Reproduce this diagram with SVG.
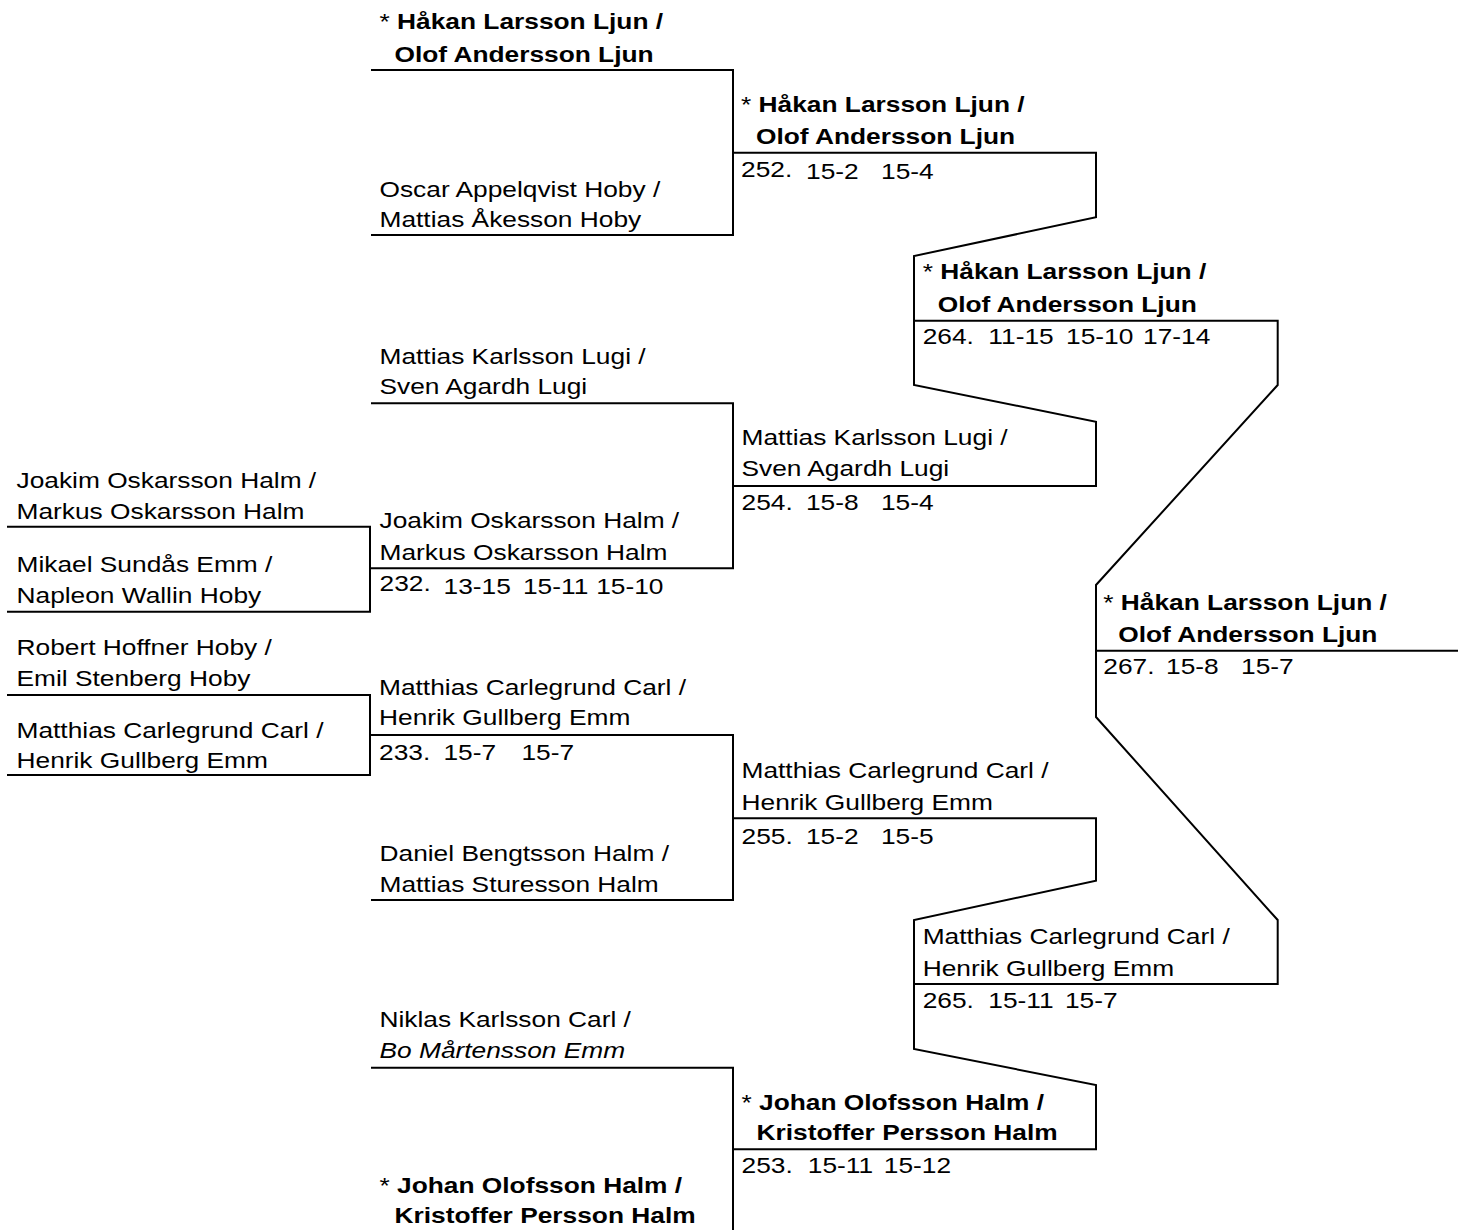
<svg xmlns="http://www.w3.org/2000/svg" width="1466" height="1230" viewBox="0 0 1466 1230">
<style>
text{font-family:"Liberation Sans",Arial,Helvetica,sans-serif;font-size:22.5px;fill:#000}
.b{font-weight:bold}
.r{font-weight:normal}
.i{font-style:italic}
.c path{fill:none;stroke:#000;stroke-width:2}
</style>
<rect width="1466" height="1230" fill="#fff"/>
<g class="c" id="connectors">
<path d="M7 526.7H370V611.7H7"/>
<path d="M7 695H370V775H7"/>
<path d="M371 70H733V235H371"/>
<path d="M371 403.3H733V568.3H371"/>
<path d="M371 735H733V900H371"/>
<path d="M371 1067.7H733V1231H371"/>
<path d="M733 152.7H1096V217.3L914 256V385L1096 421.7V486H733"/>
<path d="M733 818.3H1096V880.7L914 920V1049L1096 1085V1149.3H733"/>
<path d="M914 320.7H1277.7V385L1096 585V717L1277.7 920V984H914"/>
<path d="M1096 650.7H1458"/>
</g>
<g id="r1-joakim"><text transform="translate(16.5 0) scale(1.17 1)"><tspan x="0" y="488.5">Joakim Oskarsson Halm /</tspan><tspan x="0" y="519.5">Markus Oskarsson Halm</tspan></text></g>
<g id="r1-mikael"><text transform="translate(16.5 0) scale(1.17 1)"><tspan x="0" y="572">Mikael Sundås Emm /</tspan><tspan x="0" y="603.5">Napleon Wallin Hoby</tspan></text></g>
<g id="r1-robert"><text transform="translate(16.5 0) scale(1.17 1)"><tspan x="0" y="655">Robert Hoffner Hoby /</tspan><tspan x="0" y="686">Emil Stenberg Hoby</tspan></text></g>
<g id="r1-matthias"><text transform="translate(16.5 0) scale(1.17 1)"><tspan x="0" y="738">Matthias Carlegrund Carl /</tspan><tspan x="0" y="768.5">Henrik Gullberg Emm</tspan></text></g>
<g id="r2-hakan"><text transform="translate(379.5 0) scale(1.17 1)" class="b"><tspan x="0" y="29.3" class="r">*</tspan><tspan> Håkan Larsson Ljun /</tspan><tspan x="12.8" y="61.7">Olof Andersson Ljun</tspan></text></g>
<g id="r2-oscar"><text transform="translate(379.5 0) scale(1.17 1)"><tspan x="0" y="196.7">Oscar Appelqvist Hoby /</tspan><tspan x="0" y="226.7">Mattias Åkesson Hoby</tspan></text></g>
<g id="r2-mattias"><text transform="translate(379.5 0) scale(1.17 1)"><tspan x="0" y="364.3">Mattias Karlsson Lugi /</tspan><tspan x="0" y="394.5">Sven Agardh Lugi</tspan></text></g>
<g id="m232"><text transform="translate(379.5 0) scale(1.17 1)"><tspan x="0" y="528.5">Joakim Oskarsson Halm /</tspan><tspan x="0" y="560">Markus Oskarsson Halm</tspan><tspan x="0" y="591.5">232.</tspan><tspan x="54.7" y="594.5">13-15</tspan><tspan x="122.6" y="594.5">15-11</tspan><tspan x="185.2" y="594.5">15-10</tspan></text></g>
<g id="m233"><text transform="translate(379 0) scale(1.17 1)"><tspan x="0" y="695">Matthias Carlegrund Carl /</tspan><tspan x="0" y="725">Henrik Gullberg Emm</tspan><tspan x="0" y="760">233.</tspan><tspan x="55.1" y="760">15-7</tspan><tspan x="121.8" y="760">15-7</tspan></text></g>
<g id="r2-daniel"><text transform="translate(379.5 0) scale(1.17 1)"><tspan x="0" y="861.5">Daniel Bengtsson Halm /</tspan><tspan x="0" y="892.5">Mattias Sturesson Halm</tspan></text></g>
<g id="r2-niklas"><text transform="translate(379.5 0) scale(1.17 1)"><tspan x="0" y="1027">Niklas Karlsson Carl /</tspan><tspan x="0" y="1058.3" class="i">Bo Mårtensson Emm</tspan></text></g>
<g id="r2-johan"><text transform="translate(379.5 0) scale(1.17 1)" class="b"><tspan x="0" y="1193.3" class="r">*</tspan><tspan> Johan Olofsson Halm /</tspan><tspan x="12.8" y="1222.7">Kristoffer Persson Halm</tspan></text></g>
<g id="m252"><text transform="translate(741 0) scale(1.17 1)"><tspan x="0" y="112" class="r">*</tspan><tspan class="b"> Håkan Larsson Ljun /</tspan><tspan x="12.8" y="144.5" class="b">Olof Andersson Ljun</tspan><tspan x="0" y="176.7">252.</tspan><tspan x="55.6" y="179.2">15-2</tspan><tspan x="119.7" y="179.2">15-4</tspan></text></g>
<g id="m254"><text transform="translate(741.5 0) scale(1.17 1)"><tspan x="0" y="445">Mattias Karlsson Lugi /</tspan><tspan x="0" y="476">Sven Agardh Lugi</tspan><tspan x="0" y="510">254.</tspan><tspan x="55.1" y="510">15-8</tspan><tspan x="119.2" y="510">15-4</tspan></text></g>
<g id="m255"><text transform="translate(741.5 0) scale(1.17 1)"><tspan x="0" y="778.3">Matthias Carlegrund Carl /</tspan><tspan x="0" y="810.5">Henrik Gullberg Emm</tspan><tspan x="0" y="844">255.</tspan><tspan x="55.1" y="844">15-2</tspan><tspan x="119.2" y="844">15-5</tspan></text></g>
<g id="m253"><text transform="translate(741.5 0) scale(1.17 1)"><tspan x="0" y="1110" class="r">*</tspan><tspan class="b"> Johan Olofsson Halm /</tspan><tspan x="12.8" y="1140.5" class="b">Kristoffer Persson Halm</tspan><tspan x="0" y="1173.3">253.</tspan><tspan x="56.7" y="1173.3">15-11</tspan><tspan x="121.6" y="1173.3">15-12</tspan></text></g>
<g id="m264"><text transform="translate(922.7 0) scale(1.17 1)"><tspan x="0" y="279.3" class="r">*</tspan><tspan class="b"> Håkan Larsson Ljun /</tspan><tspan x="12.8" y="312.5" class="b">Olof Andersson Ljun</tspan><tspan x="0" y="344.3">264.</tspan><tspan x="56.1" y="344.3">11-15</tspan><tspan x="122.5" y="344.3">15-10</tspan><tspan x="188.3" y="344.3">17-14</tspan></text></g>
<g id="m265"><text transform="translate(922.7 0) scale(1.17 1)"><tspan x="0" y="944.3">Matthias Carlegrund Carl /</tspan><tspan x="0" y="976">Henrik Gullberg Emm</tspan><tspan x="0" y="1008.3">265.</tspan><tspan x="56.1" y="1008.3">15-11</tspan><tspan x="121.6" y="1008.3">15-7</tspan></text></g>
<g id="m267"><text transform="translate(1103.3 0) scale(1.17 1)"><tspan x="0" y="610.5" class="r">*</tspan><tspan class="b"> Håkan Larsson Ljun /</tspan><tspan x="12.8" y="642" class="b">Olof Andersson Ljun</tspan><tspan x="0" y="674.3">267.</tspan><tspan x="53.6" y="674.3">15-8</tspan><tspan x="117.7" y="674.3">15-7</tspan></text></g>
</svg>
